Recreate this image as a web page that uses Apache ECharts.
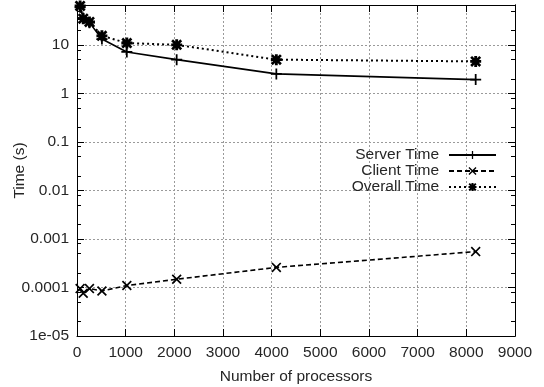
<!DOCTYPE html>
<html><head><meta charset="utf-8">
<script src="https://cdn.jsdelivr.net/npm/echarts@6/dist/echarts.min.js"></script>
<style>html,body{margin:0;padding:0;background:#fff}#c{width:544px;height:387px}</style>
</head><body><div id="c"></div>
<script>
const processors = [64, 128, 256, 512, 1024, 2048, 4096, 8192];
const serverTime = [60, 36, 29, 13.3, 7.2, 5.0, 2.54, 1.94];
const clientTime = [9.5e-5, 7.6e-5, 9.5e-5, 8.5e-5, 1.1e-4, 1.48e-4, 2.6e-4, 5.5e-4];
const overallTime = [64, 35, 30, 15.5, 11, 10.1, 5.0, 4.6];
const seriesNames = ['Server Time', 'Client Time', 'Overall Time'];
const yMajorTicks = [1e-5, 1e-4, 1e-3, 1e-2, 1e-1, 1, 10];
const yTickLabels = ['1e-05', '0.0001', '0.001', '0.01', '0.1', '1', '10'];
const yMinorMult = [2, 5, 8];

const yMinorTicks = [];
for (let e = -5; e <= 1; e++) for (const m of yMinorMult) { const v = m * Math.pow(10, e); if (v < 67) yMinorTicks.push(v); }

const FONT = 'Liberation Sans';
const FS = 15.5;
const TXT = '#262626';
const PLUS = 'path://M4.2,0H5.8V4.2H10V5.8H5.8V10H4.2V5.8H0V4.2H4.2Z';
const CROSS = 'path://M0,1.2L1.2,0L5,3.8L8.8,0L10,1.2L6.2,5L10,8.8L8.8,10L5,6.2L1.2,10L0,8.8L3.8,5Z';
const STAR = 'path://M3.7,0H6.3V3.7H10V6.3H6.3V10H3.7V6.3H0V3.7H3.7Z M0,1.7L1.7,0L5,3.3L8.3,0L10,1.7L6.7,5L10,8.3L8.3,10L5,6.7L1.7,10L0,8.3L3.3,5Z';

const YMIN = 1e-5, YMAX = 67;
const grid = { left: 77, right: 29, top: 5, height: 331, containLabel: false, outerBoundsMode: 'none' };

function yAx(pos, minor, withLabels) {
  return {
    type: 'log', position: pos, min: YMIN, max: YMAX, logBase: 10,
    axisLine: { show: true, onZero: false, lineStyle: { color: '#000', width: 1 } },
    axisTick: { show: true, inside: true, length: minor ? 4 : 7, lineStyle: { color: '#000' },
      customValues: minor ? yMinorTicks : yMajorTicks },
    axisLabel: withLabels ? {
      show: true, customValues: yMajorTicks, fontFamily: FONT, fontSize: FS, color: TXT, margin: 8,
      formatter: function (v) { const i = yMajorTicks.findIndex(t => Math.abs(Math.log10(t) - Math.log10(v)) < 1e-6); return i >= 0 ? yTickLabels[i] : ''; }
    } : { show: false },
    splitLine: withLabels ? { show: true, lineStyle: { color: '#9a9a9a', type: [2, 2], width: 1 } } : { show: false },
    name: withLabels ? 'Time (s)' : '', nameLocation: 'middle', nameGap: 49, nameMoveOverlap: false,
    nameTextStyle: { fontFamily: FONT, fontSize: FS, color: TXT }
  };
}
function xAx(pos, withLabels) {
  return {
    type: 'value', position: pos, min: 0, max: 9000, interval: 1000,
    axisLine: { show: true, onZero: false, lineStyle: { color: '#000', width: 1 } },
    axisTick: { show: true, inside: true, length: 7, lineStyle: { color: '#000' } },
    axisLabel: withLabels ? { show: true, fontFamily: FONT, fontSize: FS, color: TXT, margin: 9,
      formatter: function (v) { return String(v); } } : { show: false },
    splitLine: withLabels ? { show: true, lineStyle: { color: '#9a9a9a', type: [2, 2], width: 1 } } : { show: false },
    name: withLabels ? 'Number of processors' : '', nameLocation: 'middle', nameGap: 33, nameMoveOverlap: false,
    nameTextStyle: { fontFamily: FONT, fontSize: FS, color: TXT }
  };
}

function pairs(ys) { return processors.map((x, i) => [x, ys[i]]); }

const chart = echarts.init(document.getElementById('c'), null, { renderer: 'canvas' });
chart.setOption({
  backgroundColor: '#fff',
  animation: false,
  grid: grid,
  xAxis: [xAx('bottom', true), xAx('top', false)],
  yAxis: [yAx('left', false, true), yAx('right', false, false), yAx('left', true, false), yAx('right', true, false)],
  legend: {
    orient: 'vertical', right: 47, top: 147, align: 'right', padding: 0,
    itemWidth: 47, itemHeight: 10, itemGap: 0,
    textStyle: { fontFamily: FONT, fontSize: FS, color: TXT, lineHeight: 15.5, padding: [0, 5, 0, 0] },
    data: seriesNames
  },
  series: [
    { name: seriesNames[0], type: 'line', data: pairs(serverTime), symbol: PLUS, symbolSize: 11,
      lineStyle: { color: '#000', width: 1.6, type: 'solid' }, itemStyle: { color: '#000' } },
    { name: seriesNames[1], type: 'line', data: pairs(clientTime), symbol: CROSS, symbolSize: 10,
      lineStyle: { color: '#000', width: 1.6, type: [5, 3] }, itemStyle: { color: '#000' } },
    { name: seriesNames[2], type: 'line', data: pairs(overallTime), symbol: STAR, symbolSize: 11,
      lineStyle: { color: '#000', width: 2, type: [2, 3] }, itemStyle: { color: '#000' } }
  ]
});
</script></body></html>
